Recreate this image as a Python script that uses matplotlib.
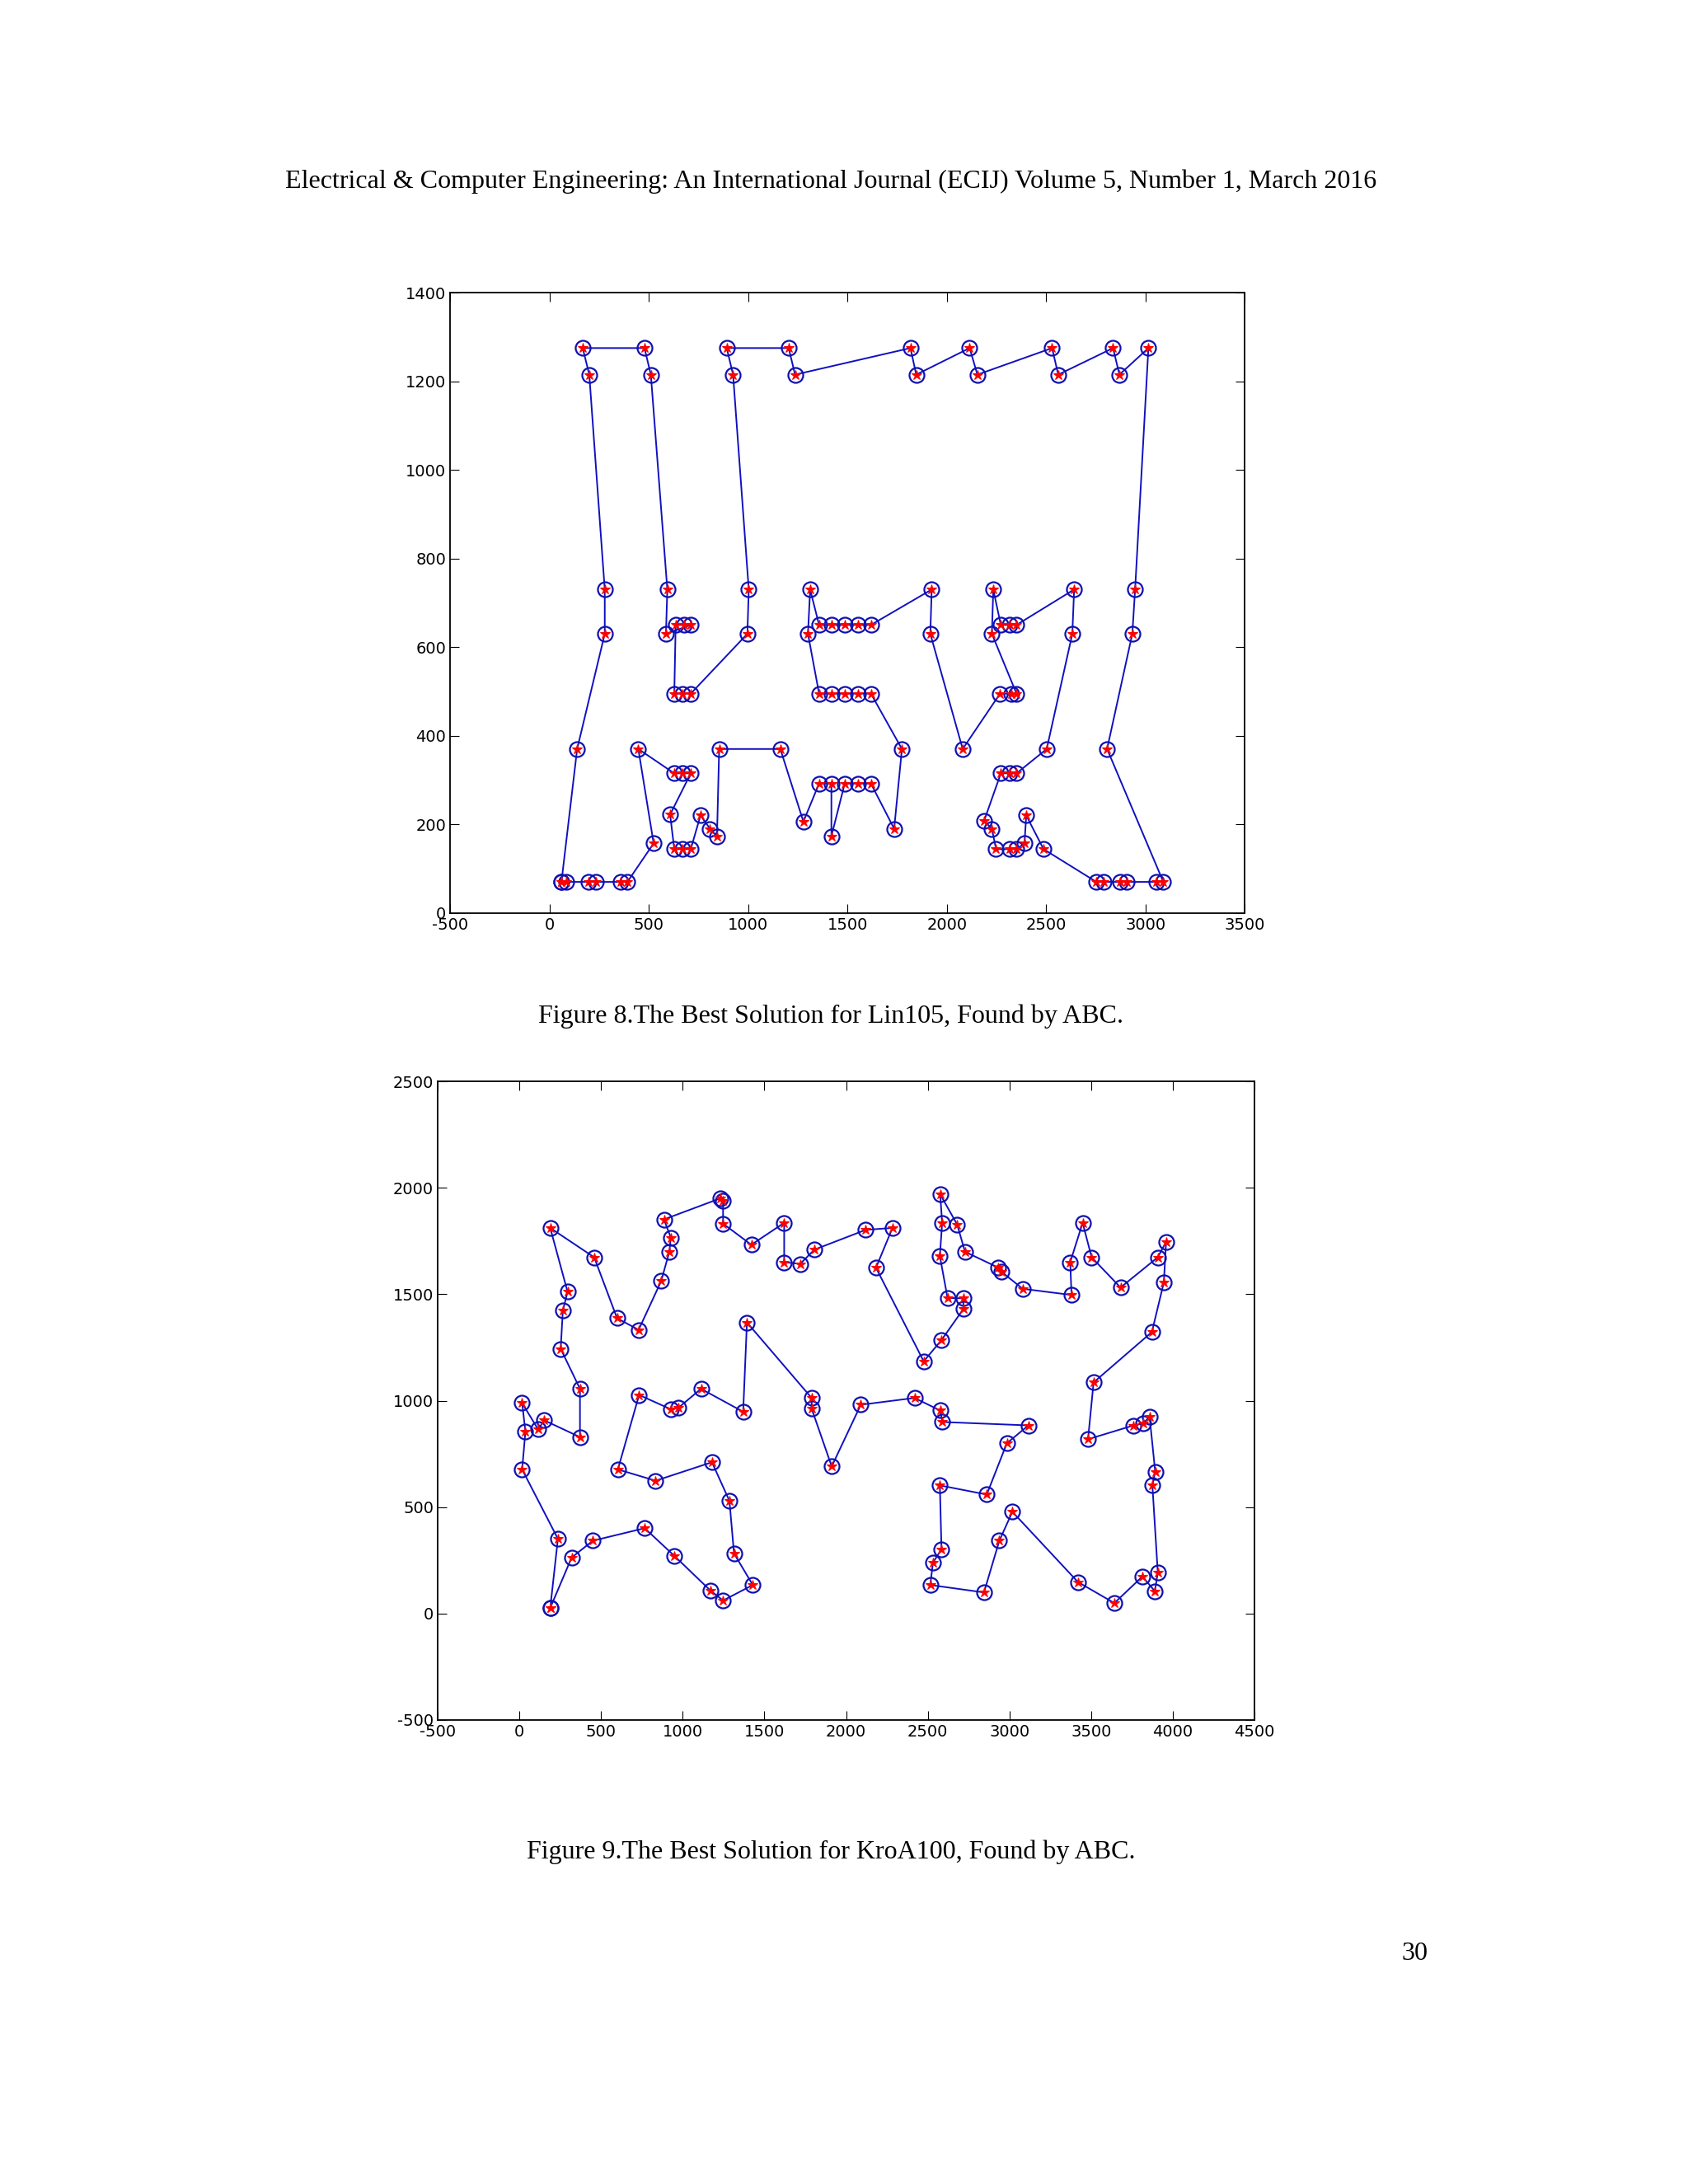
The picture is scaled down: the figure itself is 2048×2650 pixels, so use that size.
import matplotlib
matplotlib.use('Agg')
import matplotlib.pyplot as plt

plt.rcParams['axes.unicode_minus'] = False

# Lin105 tour (closed)
lin_x = [60, 86, 197, 232, 357, 392, 524, 447, 628, 669, 711, 607, 628, 669, 711, 760, 808, 843,
         854, 1162, 1278, 1357, 1419, 1419, 1486, 1555, 1618, 1735, 1774, 1618, 1555, 1486, 1419, 1357,
         1301, 1312, 1357, 1419, 1486, 1555, 1618, 1924, 1917, 2080, 2268, 2323, 2351, 2227, 2234,
         2272, 2316, 2351, 2641, 2632, 2503, 2351, 2316, 2272, 2188, 2227, 2248, 2316, 2351, 2391,
         2400, 2487, 2753, 2788, 2871, 2906, 3056, 3090, 2807, 2934, 2948, 3015, 2869, 2837, 2561,
         2530, 2154, 2115, 1846, 1817, 1236, 1204, 892, 924, 1003, 996, 711, 669, 628, 635, 676, 711,
         586, 593, 510, 478, 167, 200, 278, 278, 139, 60]
lin_y = [70, 70, 70, 70, 70, 70, 157, 370, 315, 315, 315, 222, 144, 144, 144, 220, 190, 173,
         370, 370, 206, 292, 292, 173, 292, 292, 292, 190, 370, 495, 495, 495, 495, 495,
         630, 730, 650, 650, 650, 650, 650, 730, 630, 370, 495, 495, 495, 630, 730,
         650, 650, 650, 730, 630, 370, 315, 315, 315, 208, 190, 144, 144, 144, 157,
         220, 144, 70, 70, 70, 70, 70, 70, 370, 630, 730, 1275, 1215, 1275, 1215,
         1275, 1215, 1275, 1215, 1275, 1215, 1275, 1275, 1215, 730, 630, 495, 495, 495, 650, 650, 650,
         630, 730, 1215, 1275, 1275, 1215, 730, 630, 370, 70]

# KroA100 tour (closed)
kro_x = [189, 236, 17, 37, 17, 115, 152, 371, 371, 253, 266, 295, 189, 458, 598, 730, 868, 918, 927,
         885, 1230, 1247, 1247, 1420, 1621, 1621, 1719, 1806, 2120, 2284, 2183, 2475, 2584, 2718, 2718,
         2621, 2574, 2588, 2576, 2680, 2728, 2933, 2953, 3081, 3380, 3372, 3448, 3503, 3680, 3908, 3959,
         3945, 3872, 3515, 3481, 3760, 3819, 3858, 3892, 3875, 3908, 3890, 3814, 3642, 3419, 3018, 2938,
         2844, 2515, 2532, 2584, 2574, 2861, 2984, 3116, 2590, 2576, 2419, 2090, 1912, 1789, 1789, 1393,
         1370, 1112, 974, 927, 733, 603, 834, 1179, 1286, 1314, 1429, 1247, 1168, 947, 767, 450, 320, 189]
kro_y = [26, 351, 677, 855, 989, 865, 908, 829, 1056, 1244, 1423, 1512, 1812, 1674, 1388, 1333, 1562,
         1700, 1767, 1852, 1951, 1941, 1832, 1733, 1836, 1651, 1643, 1710, 1803, 1812, 1625, 1185, 1285,
         1431, 1481, 1483, 1680, 1836, 1970, 1828, 1700, 1625, 1605, 1526, 1497, 1651, 1836, 1674, 1532,
         1674, 1747, 1556, 1323, 1086, 819, 884, 894, 924, 667, 602, 193, 105, 174, 49, 148, 478, 342,
         99, 134, 239, 302, 602, 559, 800, 884, 900, 954, 1013, 981, 691, 963, 1013, 1368, 948, 1056,
         967, 960, 1027, 677, 624, 711, 529, 282, 134, 61, 109, 272, 401, 342, 263, 26]

header = 'Electrical & Computer Engineering: An International Journal (ECIJ) Volume 5, Number 1, March 2016'
cap1 = 'Figure 8.The Best Solution for Lin105, Found by ABC.'
cap2 = 'Figure 9.The Best Solution for KroA100, Found by ABC.'

W, H = 1211, 1567
fig = plt.figure(figsize=(20.48, 26.5), dpi=100)
serif = 'Liberation Serif'

fig.text(596 / W, 1 - 130 / H, header, ha='center', va='center', fontsize=23, family=serif)
fig.text(596 / W, 1 - 729 / H, cap1, ha='center', va='center', fontsize=23, family=serif)
fig.text(596 / W, 1 - 1329 / H, cap2, ha='center', va='center', fontsize=23, family=serif)
fig.text(1015 / W, 1 - 1402 / H, '30', ha='center', va='center', fontsize=23, family=serif)


def draw(rect, xs, ys, xlim, ylim, xt, yt):
    ax = fig.add_axes(rect)
    ax.plot(xs, ys, '-', color='#1010c0', linewidth=1.4)
    ax.plot(xs, ys, 'o', mfc='none', mec='#1010b0', markersize=13, markeredgewidth=1.6)
    ax.plot(xs, ys, '*', color='red', markersize=9, markeredgewidth=0.8)
    ax.set_xlim(xlim)
    ax.set_ylim(ylim)
    ax.set_xticks(xt)
    ax.set_yticks(yt)
    ax.tick_params(direction='in', top=True, right=True, length=8, labelsize=14)
    for s in ax.spines.values():
        s.set_linewidth(1.3)
    return ax


draw([323 / W, 1 - 655 / H, 570 / W, 445 / H], lin_x, lin_y, (-500, 3500), (0, 1400),
     range(-500, 3501, 500), range(0, 1401, 200))
draw([314 / W, 1 - 1234 / H, 586 / W, 458 / H], kro_x, kro_y, (-500, 4500), (-500, 2500),
     range(-500, 4501, 500), range(-500, 2501, 500))

fig.savefig('out.png', dpi=100)
